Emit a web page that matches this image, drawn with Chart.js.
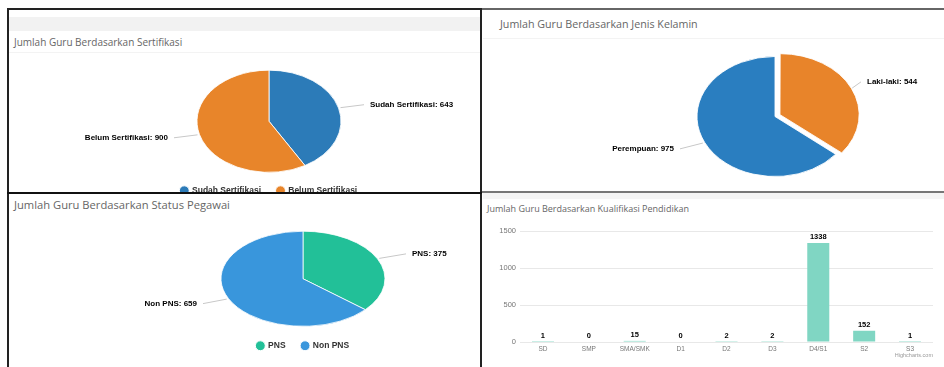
<!DOCTYPE html>
<html>
<head>
<meta charset="utf-8">
<script src="https://cdn.jsdelivr.net/npm/chart.js@4.4.0/dist/chart.umd.min.js"></script>
<style>
  body { margin: 0; background: #fff; }
  #wrap { position: relative; width: 944px; height: 367px; overflow: hidden; background: #fff; }
  .abs { position: absolute; }
  .title { position: absolute; font-family: "Open Sans", sans-serif; color: #666; white-space: nowrap; line-height: 1; }
  .line { position: absolute; z-index: 5; }
  canvas { position: absolute; }
</style>
</head>
<body>
<div id="wrap">
  <!-- panel chrome -->
  <div class="abs" style="left:9px;top:17px;width:471px;height:14px;background:#f2f2f2"></div>
  <div class="abs" style="left:9px;top:52px;width:471px;height:1px;background:#f3f3f3"></div>
  <div class="abs" style="left:483px;top:38px;width:461px;height:1px;background:#f3f3f3"></div>
  <div class="abs" style="left:483px;top:193px;width:461px;height:6px;background:#f5f5f5"></div>

  <div class="title" style="left:14px;top:37px;font-size:10px">Jumlah Guru Berdasarkan Sertifikasi</div>
  <div class="title" style="left:500px;top:19px;font-size:10.7px">Jumlah Guru Berdasarkan Jenis Kelamin</div>
  <div class="title" style="left:14px;top:199px;font-size:11.2px">Jumlah Guru Berdasarkan Status Pegawai</div>
  <div class="title" style="left:487px;top:204px;font-size:9px">Jumlah Guru Berdasarkan Kualifikasi Pendidikan</div>

  <div class="abs" style="left:8px;top:10px;width:473px;height:182px;overflow:hidden">
    <canvas id="c1" width="473" height="150" style="left:0;top:51px"></canvas>
  </div>
  <canvas id="c2" width="462" height="152" style="left:482px;top:39px"></canvas>
  <canvas id="c3" width="473" height="152" style="left:8px;top:221px"></canvas>
  <canvas id="c4" width="462" height="149" style="left:482px;top:218px"></canvas>

  <!-- borders -->
  <div class="line" style="left:7px;top:8px;width:475px;height:2px;background:#222"></div>
  <div class="line" style="left:482px;top:8px;width:462px;height:2px;background:#666"></div>
  <div class="line" style="left:7px;top:8px;width:2px;height:359px;background:#222"></div>
  <div class="line" style="left:480px;top:8px;width:2px;height:359px;background:#222"></div>
  <div class="line" style="left:7px;top:192px;width:475px;height:2px;background:#111"></div>
  <div class="line" style="left:482px;top:191px;width:462px;height:2px;background:#777"></div>
</div>
<script>
const sertifikasiLabels = ['Sudah Sertifikasi', 'Belum Sertifikasi'];
const sertifikasiValues = [643, 900];
const kelaminLabels = ['Laki-laki', 'Perempuan'];
const kelaminValues = [544, 975];
const statusLabels = ['PNS', 'Non PNS'];
const statusValues = [375, 659];
const pendidikanLabels = ['SD', 'SMP', 'SMA/SMK', 'D1', 'D2', 'D3', 'D4/S1', 'S2', 'S3'];
const pendidikanValues = [1, 0, 15, 0, 2, 2, 1338, 152, 1];
const pendidikanTicks = [0, 500, 1000, 1500];

Chart.defaults.font.family = '"Liberation Sans", Arial, sans-serif';

// squash the pie vertically so it looks like the stretched screenshot
const squash = {
    id: 'squash',
    beforeDatasetsDraw(chart, args, o) {
        const arc = chart.getDatasetMeta(0).data[0];
        const ctx = chart.ctx;
        ctx.save();
        ctx.translate(arc.x, arc.y);
        ctx.scale(1, o.k);
        ctx.translate(-arc.x, -arc.y);
    },
    afterDatasetsDraw(chart) {
        chart.ctx.restore();
    }
};

// outside labels with connector lines
const pieLabels = {
    id: 'pieLabels',
    afterDraw(chart, args, o) {
        const ctx = chart.ctx;
        const k = chart.options.plugins.squash.k;
        const meta = chart.getDatasetMeta(0);
        const vals = chart.data.datasets[0].data;
        ctx.save();
        ctx.font = 'bold 8px "Liberation Sans", Arial, sans-serif';
        meta.data.forEach((arc, i) => {
            const mid = (arc.startAngle + arc.endAngle) / 2;
            const off = (arc.options.offset || 0) / 4;
            const cos = Math.cos(mid), sin = Math.sin(mid);
            const r = arc.outerRadius;
            const ex = arc.x + cos * (r + off), ey = arc.y + sin * (r + off) * k;
            const right = cos >= 0;
            const ly = arc.y + (ey - arc.y) * 1.25;
            const tx = arc.x + (right ? r + o.distR : -(r + o.distL));
            ctx.strokeStyle = '#c8c8c8';
            ctx.lineWidth = 1;
            ctx.beginPath();
            ctx.moveTo(ex + cos * 2, ey + sin * 2 * k);
            ctx.lineTo(tx + (right ? -6 : 6), ly);
            ctx.stroke();
            ctx.fillStyle = '#000';
            ctx.textAlign = right ? 'left' : 'right';
            ctx.textBaseline = 'middle';
            ctx.fillText(chart.data.labels[i] + ': ' + vals[i], tx, ly);
        });
        ctx.restore();
    }
};

function pieChart(id, labels, values, colors, extra) {
    return new Chart(document.getElementById(id), {
        type: 'pie',
        data: {
            labels: labels,
            datasets: [{
                data: values,
                backgroundColor: colors,
                borderColor: '#fff',
                borderWidth: 1,
                offset: extra.offset || 0,
                radius: extra.radius,
                clip: false
            }]
        },
        options: {
            responsive: false,
            animation: false,
            devicePixelRatio: 1,
            layout: { padding: extra.padding },
            plugins: {
                tooltip: { enabled: false },
                squash: { k: extra.k },
                pieLabels: { distR: extra.distR, distL: extra.distL },
                legend: {
                    display: extra.legend,
                    position: 'bottom',
                    labels: {
                        usePointStyle: true,
                        pointStyle: 'circle',
                        boxWidth: 7,
                        boxHeight: 7,
                        padding: 16,
                        color: '#333',
                        font: { size: 8.5, weight: 'bold' }
                    }
                }
            }
        },
        plugins: [squash, pieLabels]
    });
}

pieChart('c1', sertifikasiLabels, sertifikasiValues, ['#2c7bb8', '#e8852a'], {
    radius: 72, k: 0.71, legend: true, distR: 29, distL: 29,
    padding: { left: 49, right: 0, top: 11, bottom: 6 }
});

pieChart('c2', kelaminLabels, kelaminValues, ['#e8842a', '#2a7ec0'], {
    radius: 78, k: 0.77, legend: false, distR: 14, distL: 23,
    offset: [22, 0],
    padding: { left: 124, right: 0, top: 3, bottom: 0 }
});

pieChart('c3', statusLabels, statusValues, ['#22c098', '#3996dc'], {
    radius: 82, k: 0.58, legend: true, distR: 27, distL: 24,
    padding: { left: 117, right: 0, top: 11, bottom: 13 }
});

const barLabels = {
    id: 'barLabels',
    afterDatasetsDraw(chart) {
        const ctx = chart.ctx;
        const meta = chart.getDatasetMeta(0);
        ctx.save();
        ctx.font = 'bold 7.5px "Liberation Sans", Arial, sans-serif';
        ctx.fillStyle = '#000';
        ctx.textAlign = 'center';
        ctx.textBaseline = 'bottom';
        meta.data.forEach((bar, i) => {
            ctx.fillText(String(pendidikanValues[i]), bar.x, bar.y - 2);
        });
        ctx.font = '5.5px "Liberation Sans", Arial, sans-serif';
        ctx.fillStyle = '#999';
        ctx.textAlign = 'right';
        ctx.textBaseline = 'middle';
        ctx.fillText('Highcharts.com', chart.chartArea.right, 137);
        ctx.restore();
    }
};

new Chart(document.getElementById('c4'), {
    type: 'bar',
    data: {
        labels: pendidikanLabels,
        datasets: [{
            data: pendidikanValues,
            backgroundColor: '#80d6c3',
            barPercentage: 0.48,
            categoryPercentage: 1
        }]
    },
    options: {
        responsive: false,
        animation: false,
        devicePixelRatio: 1,
        layout: { padding: { left: 0, right: 11, top: 13, bottom: 0 } },
        plugins: { legend: { display: false }, tooltip: { enabled: false } },
        scales: {
            x: {
                grid: { display: false, drawTicks: false },
                border: { display: false },
                ticks: { color: '#777', font: { size: 6.5 }, padding: 3, autoSkip: false, maxRotation: 0 },
                afterFit(s) { s.height = 25; }
            },
            y: {
                min: 0,
                max: 1500,
                afterBuildTicks(s) { s.ticks = pendidikanTicks.map(v => ({ value: v })); },
                grid: { color: '#e8e8e8', drawTicks: false },
                border: { display: false },
                ticks: { color: '#777', font: { size: 7.5 }, padding: 4, callback: v => String(v) },
                afterFit(s) { s.width = 38; }
            }
        }
    },
    plugins: [barLabels]
});
</script>
</body>
</html>
